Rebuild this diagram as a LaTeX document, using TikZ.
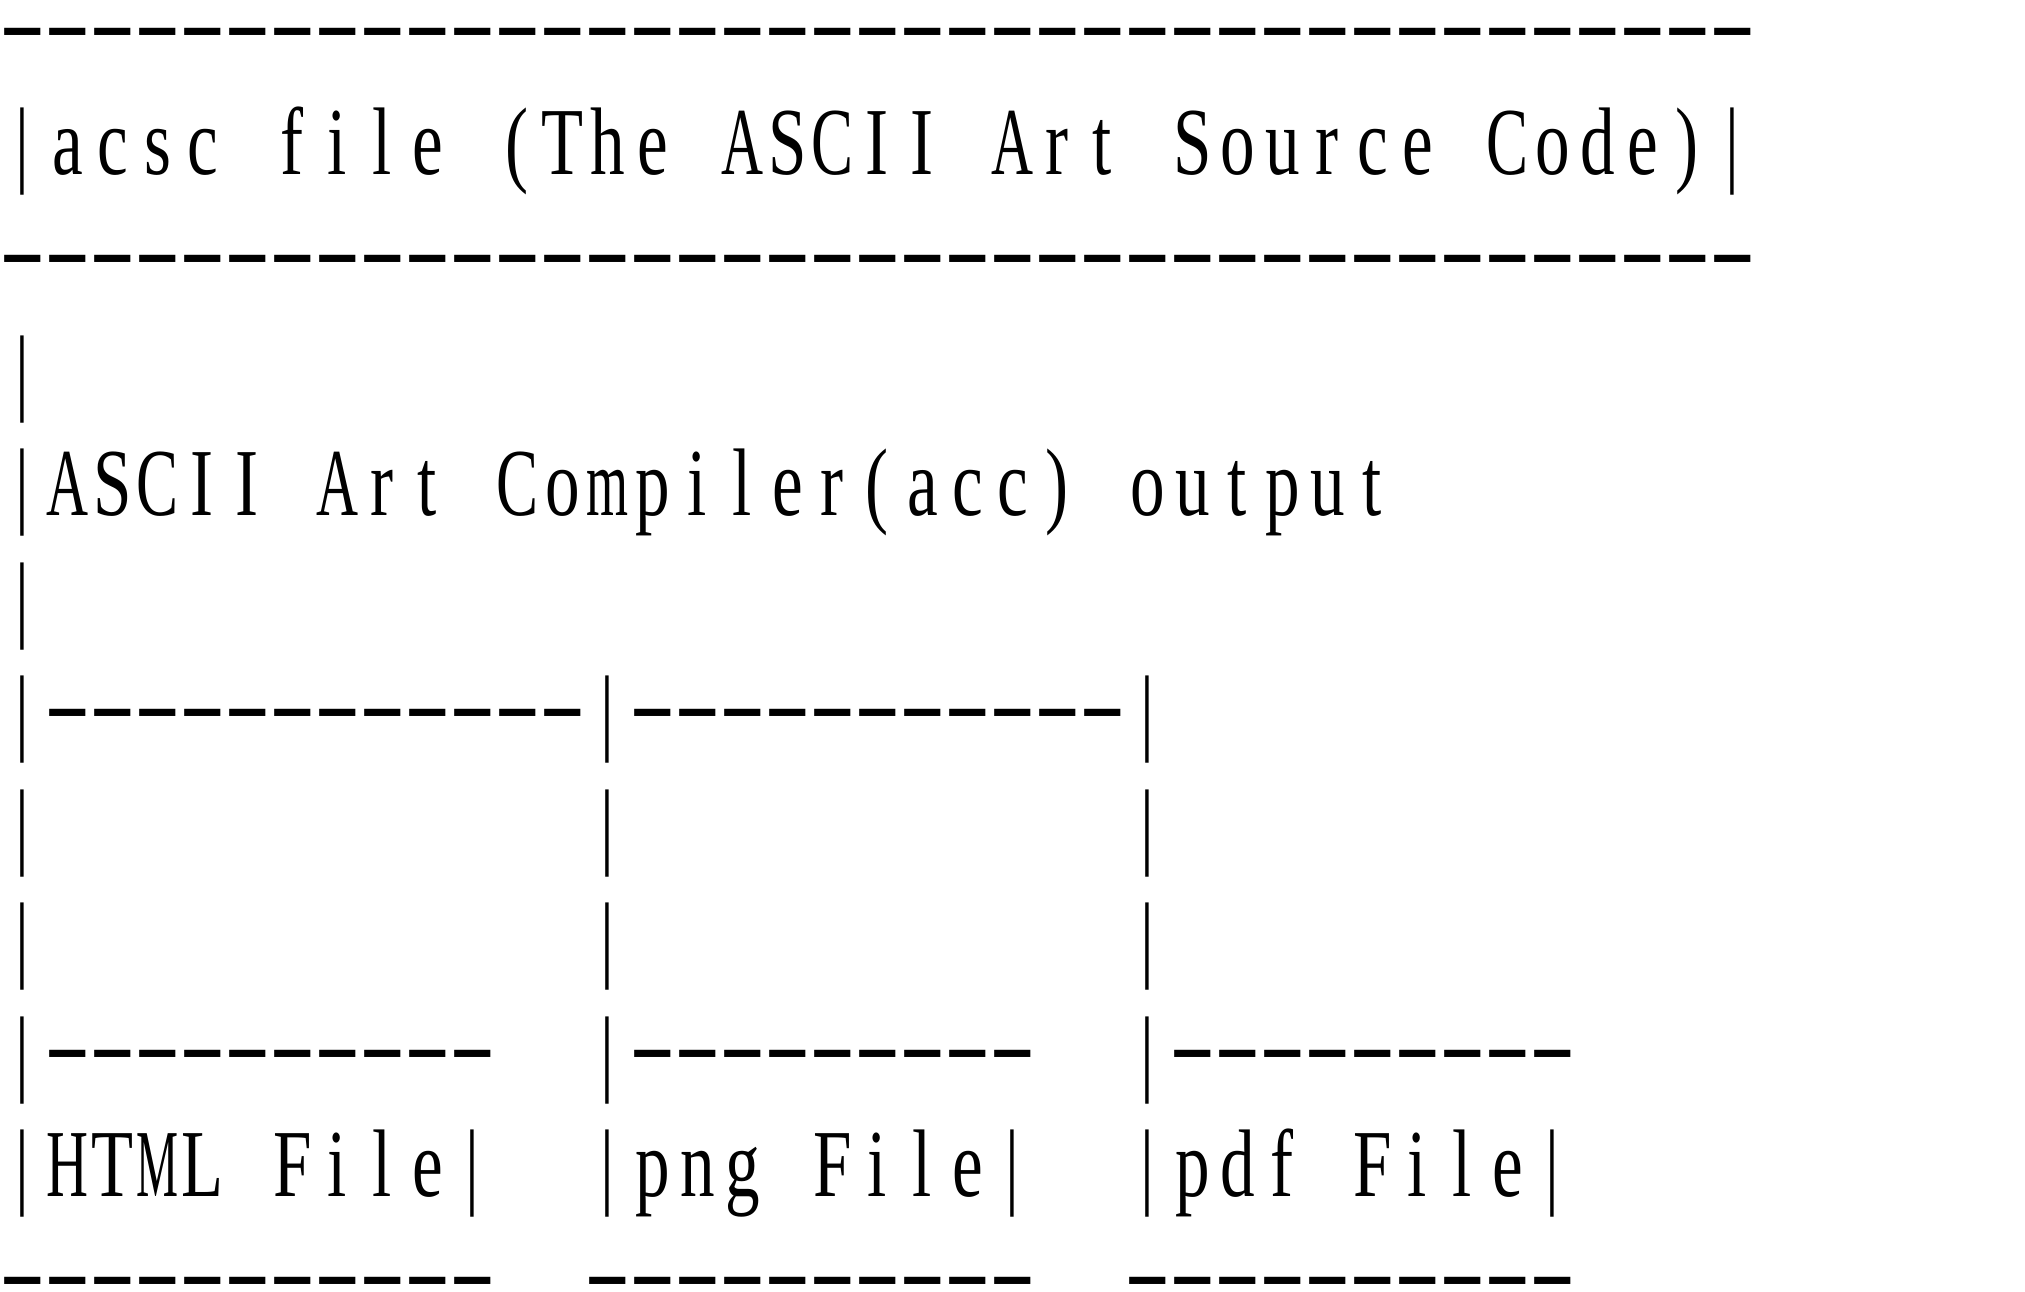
\documentclass[tikz,border=0pt]{standalone}
\usepackage{fontspec}
\setmainfont{Liberation Serif}
\usepackage{graphicx}
\newlength\asccw
\setlength\asccw{45pt}
\newsavebox\ascbox
\newlength\ascw
\newcommand\ascglyph[1]{%
  \sbox\ascbox{#1}%
  \setlength\ascw{0.72\wd\ascbox}%
  \ifdim\ascw>42pt
    \resizebox{42pt}{\height}{\usebox\ascbox}%
  \else
    \scalebox{0.72}[1]{\usebox\ascbox}%
  \fi}
\newcommand\ascchar[1]{%
  \ifx-#1\makebox[\asccw][c]{\raisebox{7pt}{\scalebox{1.45}[1]{-}}}%
  \else\makebox[\asccw][c]{\ascglyph{#1}}\fi}
\def\ascloop#1{\ifx#1\relax\else\ascchar{#1}\expandafter\ascloop\fi}
\newcommand\asciirow[1]{\ascloop#1\relax}
\tikzset{ascrow/.style={anchor=base west, inner sep=0pt, outer sep=0pt,
  font=\fontsize{96pt}{96pt}\selectfont}}
\begin{document}
\begin{tikzpicture}
\fill[white] (0pt,0pt) rectangle (2025pt,-1292pt);
\useasboundingbox (0pt,0pt) rectangle (2025pt,-1292pt);
\node[ascrow] (r0) at (0pt,-61.5pt) {\asciirow{---------------------------------------}};
\node[ascrow] (r1) at (0pt,-175pt) {\asciirow{|acsc~file~(The~ASCII~Art~Source~Code)|}};
\node[ascrow] (r2) at (0pt,-288.5pt) {\asciirow{---------------------------------------}};
\node[ascrow] (r3) at (0pt,-402pt) {\asciirow{|}};
\node[ascrow] (r4) at (0pt,-515.5pt) {\asciirow{|ASCII~Art~Compiler(acc)~output}};
\node[ascrow] (r5) at (0pt,-629pt) {\asciirow{|}};
\node[ascrow] (r6) at (0pt,-742.5pt) {\asciirow{|------------|-----------|}};
\node[ascrow] (r7) at (0pt,-856pt) {\asciirow{|~~~~~~~~~~~~|~~~~~~~~~~~|}};
\node[ascrow] (r8) at (0pt,-969.5pt) {\asciirow{|~~~~~~~~~~~~|~~~~~~~~~~~|}};
\node[ascrow] (r9) at (0pt,-1083pt) {\asciirow{|----------~~|---------~~|---------}};
\node[ascrow] (r10) at (0pt,-1196.5pt) {\asciirow{|HTML~File|~~|png~File|~~|pdf~File|}};
\node[ascrow] (r11) at (0pt,-1310pt) {\asciirow{-----------~~----------~~----------}};
\end{tikzpicture}
\end{document}
